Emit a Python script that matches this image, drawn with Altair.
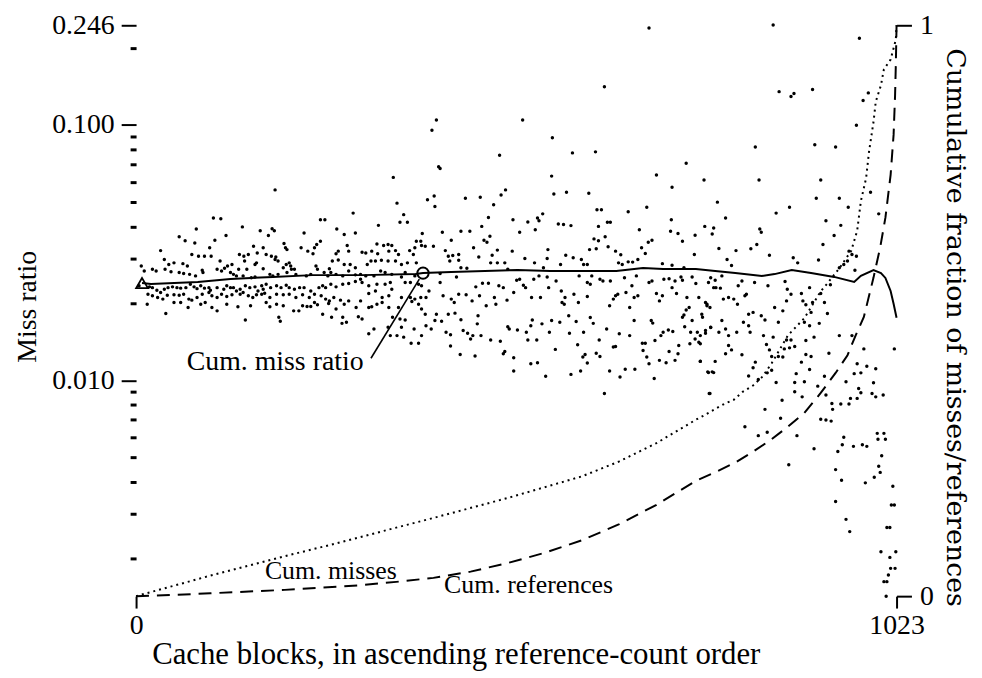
import altair as alt
import pandas as pd

# ---------------- data (block index, log10 of miss ratio) ----------------
pts_left_upper = [(187,-1.254),(346,-1.205),(351,-1.306),(360,-1.351),(355,-1.381),(365,-1.381),(392,-1.293),(292,-1.345),(104,-1.364),(114,-1.367),(248,-1.371),(254,-1.371),(326,-1.393),(81,-1.407),(143,-1.399),(183,-1.406),(186,-1.414),(167,-1.414),(270,-1.407),(226,-1.423),(280,-1.429),(295,-1.423),(385,-1.425),(58,-1.438),(66,-1.453),(106,-1.451),(121,-1.433),(79,-1.462),(178,-1.433),(248,-1.455),(243,-1.468),(240,-1.481),(199,-1.464),(99,-1.481),(33,-1.492),(75,-1.507),(84,-1.514),(92,-1.514),(101,-1.514),(139,-1.507),(145,-1.514),(151,-1.507),(158,-1.475),(171,-1.481),(163,-1.501),(175,-1.507),(182,-1.514),(188,-1.517),(201,-1.481),(203,-1.488),(222,-1.481),(231,-1.494),(238,-1.504),(269,-1.504),(272,-1.494),(284,-1.472),(286,-1.494),(304,-1.498),(309,-1.501),(317,-1.494),(324,-1.466),(333,-1.472),(339,-1.468),(344,-1.472),(325,-1.504),(340,-1.494),(349,-1.492),(353,-1.507),(368,-1.492),(375,-1.481),(377,-1.455),(383,-1.455),(384,-1.472),(389,-1.475),(373,-1.507)]
pts_left_mid = [(38,-1.527),(44,-1.546),(51,-1.540),(63,-1.543),(69,-1.552),(113,-1.533),(123,-1.552),(129,-1.546),(146,-1.533),(160,-1.546),(162,-1.540),(149,-1.565),(138,-1.565),(171,-1.563),(187,-1.527),(191,-1.533),(198,-1.559),(202,-1.546),(206,-1.540),(208,-1.552),(213,-1.565),(242,-1.552),(260,-1.563),(264,-1.533),(272,-1.529),(280,-1.546),(288,-1.546),(295,-1.559),(311,-1.546),(316,-1.533),(322,-1.533),(330,-1.530),(339,-1.533),(349,-1.533),(357,-1.546),(365,-1.540),(377,-1.540),(7,-1.552),(11,-1.572),(22,-1.565),(27,-1.572),(39,-1.565),(47,-1.575),(58,-1.578),(64,-1.582),(72,-1.585),(80,-1.591),(89,-1.569),(90,-1.578),(109,-1.565),(115,-1.572),(119,-1.561),(127,-1.578),(131,-1.585),(135,-1.591),(144,-1.591),(155,-1.598),(160,-1.595),(180,-1.585),(184,-1.591),(191,-1.585),(203,-1.578),(209,-1.565),(215,-1.585),(229,-1.591),(235,-1.585),(244,-1.565),(253,-1.578),(258,-1.591),(262,-1.578),(269,-1.585),(278,-1.591),(286,-1.572),(295,-1.587),(302,-1.585),(309,-1.591),(320,-1.591),(329,-1.572),(335,-1.578),(344,-1.585),(357,-1.595),(362,-1.578),(375,-1.591)]
pts_left_low = [(4,-1.630),(18,-1.634),(22,-1.637),(28,-1.647),(33,-1.656),(38,-1.643),(43,-1.637),(49,-1.634),(55,-1.637),(60,-1.639),(67,-1.637),(73,-1.624),(78,-1.634),(82,-1.641),(87,-1.630),(92,-1.639),(98,-1.637),(100,-1.647),(109,-1.637),(118,-1.643),(122,-1.630),(127,-1.637),(131,-1.637),(135,-1.650),(140,-1.643),(147,-1.630),(153,-1.637),(160,-1.634),(164,-1.650),(169,-1.630),(171,-1.643),(175,-1.624),(181,-1.637),(189,-1.630),(195,-1.637),(202,-1.628),(206,-1.637),(213,-1.643),(220,-1.637),(226,-1.637),(235,-1.650),(246,-1.637),(251,-1.630),(255,-1.637),(262,-1.624),(269,-1.634),(278,-1.624),(286,-1.621),(295,-1.613),(302,-1.604),(304,-1.617),(313,-1.630),(324,-1.624),(335,-1.624),(342,-1.617),(362,-1.617),(369,-1.617),(380,-1.624),(384,-1.630),
    (16,-1.663),(22,-1.669),(29,-1.676),(36,-1.682),(42,-1.667),(51,-1.665),(58,-1.667),(64,-1.663),(71,-1.682),(75,-1.686),(82,-1.676),(89,-1.663),(98,-1.656),(102,-1.669),(109,-1.676),(115,-1.663),(122,-1.672),(129,-1.665),(140,-1.663),(144,-1.656),(151,-1.669),(157,-1.676),(162,-1.665),(169,-1.663),(173,-1.659),(180,-1.676),(189,-1.663),(198,-1.665),(206,-1.663),(215,-1.676),(224,-1.665),(233,-1.676),(240,-1.663),(249,-1.669),(255,-1.682),(260,-1.689),(266,-1.676),(275,-1.686),(280,-1.702),(286,-1.689),(302,-1.689),(313,-1.660),(322,-1.650),(331,-1.676),(340,-1.669),(344,-1.643),(357,-1.676),(369,-1.676),(375,-1.682),(383,-1.676),(390,-1.676),
    (15,-1.702),(40,-1.738),(51,-1.695),(60,-1.695),(70,-1.715),(87,-1.702),(93,-1.695),(102,-1.715),(109,-1.728),(122,-1.702),(137,-1.712),(154,-1.708),(147,-1.764),(175,-1.695),(180,-1.712),(189,-1.702),(192,-1.753),(194,-1.769),(198,-1.708),(212,-1.728),(219,-1.728),(224,-1.708),(230,-1.711),(235,-1.711),(240,-1.695),(244,-1.704),(251,-1.741),(259,-1.699),(263,-1.753),(269,-1.721),(278,-1.753),(283,-1.773),(277,-1.777),(296,-1.715),(299,-1.751),(304,-1.760),(313,-1.715),(317,-1.712),(324,-1.702),(331,-1.695),(340,-1.715),(345,-1.753),(353,-1.715),(355,-1.760),(362,-1.764),(371,-1.691),(380,-1.702),(384,-1.721),(389,-1.741),(390,-1.786),(313,-1.818),(320,-1.799),(339,-1.792),(342,-1.825),(351,-1.825),(357,-1.792),(360,-1.831),(370,-1.855),(374,-1.799),(380,-1.855),(384,-1.825)]
pts_mid_upper = [(489,-1.118),(587,-1.109),(618,-1.105),(407,-1.163),(409,-1.170),(559,-1.200),(740,-1.150),(700,-1.196),(764,-1.215),(721,-1.244),(562,-1.270),(579,-1.263),(609,-1.267),(401,-1.278),(402,-1.319),(443,-1.287),(463,-1.283),(491,-1.274),(497,-1.254),(481,-1.312),(662,-1.340),(687,-1.322),(620,-1.332),(626,-1.332),(547,-1.348),(540,-1.364),(542,-1.375),(527,-1.380),(507,-1.371),(474,-1.362),(465,-1.397),(537,-1.410),(568,-1.388),(575,-1.390),(585,-1.394),(622,-1.397),(634,-1.381),(638,-1.381),(720,-1.371),(677,-1.410),(719,-1.416),(729,-1.425),(752,-1.432),(765,-1.397),(777,-1.403),(775,-1.427),
    (400,-1.475),(412,-1.420),(424,-1.451),(437,-1.416),(449,-1.416),(454,-1.481),(468,-1.451),(472,-1.459),(476,-1.436),(486,-1.490),(506,-1.494),(516,-1.420),(554,-1.488),(616,-1.446),(622,-1.453),(631,-1.438),(610,-1.488),(619,-1.485),(635,-1.477),(645,-1.494),(652,-1.508),(680,-1.481),(685,-1.503),(689,-1.459),(694,-1.451),(735,-1.455),(751,-1.507),(416,-1.492),(420,-1.514),(426,-1.511),(434,-1.507),(422,-1.533),(434,-1.530),(461,-1.517),(479,-1.510),(486,-1.540),(496,-1.540),(523,-1.523),(536,-1.540),(553,-1.523),(571,-1.546),(578,-1.510),(588,-1.520),(599,-1.527),(602,-1.546),(607,-1.546),(649,-1.540),(654,-1.546),(662,-1.536),(668,-1.537),(675,-1.527),(708,-1.543),(721,-1.549),(737,-1.559),(437,-1.559),(477,-1.540),(500,-1.565),(548,-1.559),(409,-1.582),(431,-1.595),(445,-1.561),
    (398,-1.020),(404,-0.980),(520,-0.980),(560,-1.050),(630,-0.850),(690,-0.620)]
pts_mid_low = [(394,-1.650),(409,-1.617),(413,-1.669),(424,-1.682),(428,-1.695),(434,-1.663),(444,-1.665),(452,-1.689),(457,-1.634),(462,-1.669),(466,-1.620),(474,-1.620),(482,-1.676),(484,-1.702),(471,-1.708),(488,-1.630),(494,-1.637),(499,-1.686),(508,-1.656),(512,-1.608),(516,-1.604),(521,-1.628),(524,-1.637),(532,-1.676),(535,-1.604),(542,-1.591),(544,-1.676),(553,-1.595),(555,-1.637),(565,-1.611),(572,-1.650),(577,-1.676),(576,-1.702),(573,-1.695),(589,-1.663),(595,-1.695),(596,-1.591),(607,-1.617),(611,-1.624),(607,-1.672),(613,-1.591),(624,-1.604),(628,-1.611),(638,-1.611),(642,-1.682),(637,-1.708),(645,-1.669),(648,-1.663),(657,-1.598),(659,-1.656),(664,-1.715),(667,-1.630),(670,-1.676),(673,-1.591),(675,-1.669),(690,-1.617),(694,-1.611),(700,-1.660),(704,-1.689),(708,-1.669),(710,-1.604),(717,-1.602),(725,-1.611),(721,-1.637),(727,-1.660),(733,-1.595),(735,-1.608),(741,-1.676),(748,-1.595),(753,-1.621),(757,-1.676),(766,-1.695),(770,-1.617),(772,-1.715),(777,-1.637),
    (397,-1.799),(402,-1.766),(404,-1.741),(411,-1.769),(417,-1.812),(423,-1.822),(420,-1.741),(429,-1.737),(437,-1.763),(440,-1.805),(446,-1.816),(450,-1.838),(453,-1.825),(460,-1.747),(459,-1.779),(464,-1.825),(423,-1.866),(436,-1.899),(456,-1.905),(477,-1.842),(490,-1.847),(494,-1.896),(496,-1.887),(500,-1.790),(502,-1.799),(513,-1.803),(508,-1.912),(508,-1.964),(525,-1.812),(527,-1.842),(531,-1.786),(533,-1.764),(539,-1.842),(531,-1.935),(540,-1.931),(546,-1.779),(551,-1.984),(556,-1.812),(559,-1.766),(564,-1.879),(570,-1.773),(582,-1.747),(583,-1.816),(585,-1.977),(592,-1.770),(594,-1.861),(598,-1.964),(601,-1.909),(602,-1.812),(604,-1.899),(607,-1.932),(611,-1.754),(615,-1.777),(619,-1.894),(623,-1.842),(624,-1.907),(630,-2.052),(633,-1.799),(637,-1.964),(642,-1.870),(645,-1.868),(650,-1.818),(651,-1.987),(658,-1.957),(664,-1.825),(670,-1.766),(671,-1.957),(681,-1.855),(682,-1.883),(685,-1.855),(687,-1.909),(690,-1.935),(693,-1.766),(695,-1.776),(697,-1.993),(698,-1.844),(704,-1.922),(706,-1.825),(709,-1.812),(713,-1.931),(716,-1.803),(717,-1.887),(722,-1.809),(725,-1.922),(729,-1.896),(730,-1.864),(735,-1.753),(737,-1.744),(738,-1.790),(740,-1.725),(744,-1.715),(745,-1.857),(746,-1.812),(748,-1.766),(752,-1.838),(755,-1.812),(757,-1.851),(759,-1.925),(762,-1.753),(766,-1.805),(768,-1.708),(769,-1.967),(773,-1.792),(775,-1.967),(772,-2.052)]
pts_right_upper = [(857,-0.608),(973,-0.660),(865,-0.869),(881,-0.888),(885,-0.876),(910,-0.861),(985,-0.874),(978,-0.904),(969,-1.001),(833,-1.086),(913,-1.077),(941,-1.086),(838,-1.215),(921,-1.215),(988,-1.263),(782,-1.302),(915,-1.287),(946,-1.287),(879,-1.322),(861,-1.345),(958,-1.322),(999,-1.348),(793,-1.364),(928,-1.375),(948,-1.393),(839,-1.407),(841,-1.420),(939,-1.433),(784,-1.484),(807,-1.492),(827,-1.485),(835,-1.468),(852,-1.510),(795,-1.527),(801,-1.550),(884,-1.520),(890,-1.540),(918,-1.529),(924,-1.468),(959,-1.494),(957,-1.533),(963,-1.507),(969,-1.514),(946,-1.559),(952,-1.546),(967,-1.569),
    (773,-1.598),(779,-1.608),(788,-1.591),(780,-1.637),(786,-1.639),(810,-1.630),(815,-1.611),(821,-1.663),(832,-1.617),(850,-1.630),(873,-1.613),(876,-1.643),(881,-1.663),(895,-1.660),(906,-1.637),(921,-1.660),(934,-1.626),(768,-1.702),(761,-1.741),(790,-1.682),(797,-1.676),(804,-1.682),(809,-1.702),(819,-1.669),(824,-1.741),(830,-1.734),(841,-1.747),(859,-1.715),(870,-1.728),(875,-1.689),(897,-1.689),(901,-1.704),(910,-1.695),(908,-1.734),(926,-1.695),(930,-1.738),(899,-1.773),(906,-1.786),(919,-1.777),(788,-1.766),(817,-1.773),(824,-1.786),(846,-1.764),(864,-1.773),(793,-1.799),(773,-1.793)]
pts_right_low = [(759,-1.825),(766,-1.816),(784,-1.812),(797,-1.825),(808,-1.812),(826,-1.812),(844,-1.825),(857,-1.831),(875,-1.842),(881,-1.842),(886,-1.868),(879,-1.873),(872,-1.877),(912,-1.831),(901,-1.844),(932,-1.894),(946,-1.825),(963,-1.825),(759,-1.857),(797,-1.864),(801,-1.881),(793,-1.896),(848,-1.860),(852,-1.881),(855,-1.907),(864,-1.907),(870,-1.909),(815,-1.900),(901,-1.899),(908,-1.907),(895,-1.929),(906,-1.958),(979,-1.877),(1020,-1.877),(759,-1.926),(779,-1.926),(833,-1.929),(830,-1.951),(849,-1.971),(855,-1.961),(824,-1.983),(837,-1.997),(770,-1.970),(777,-1.970),(888,-1.974),(886,-2.009),(899,-2.006),(861,-2.009),(926,-1.984),(917,-2.023),(928,-2.058),(970,-1.935),(983,-1.945),(995,-1.955),(966,-1.974),(975,-1.971),(955,-2.006),(992,-2.010),(972,-2.032),(975,-2.049),(970,-2.071),(961,-2.071),(959,-2.093),(948,-2.093),(936,-2.091),(937,-2.114),(990,-2.052),(995,-2.065),(1005,-2.058),(771,-2.052),(886,-2.045),(896,-2.065),(869,-2.078),(846,-2.114),(867,-2.149),(819,-2.182),(837,-2.217),(849,-2.204),(889,-2.217),(921,-2.153),(928,-2.156),(935,-2.160),(912,-2.268),(878,-2.331),(952,-2.223),(950,-2.253),(944,-2.279),(965,-2.259),(977,-2.253),(983,-2.259),(997,-2.208),(1006,-2.208),(998,-2.231),(1008,-2.231),(1003,-2.296),(999,-2.337),(1001,-2.361),(993,-2.380),(981,-2.402),(941,-2.350),(949,-2.392),(941,-2.475),(955,-2.545),(960,-2.593),(1018,-2.415),(1016,-2.489),(1020,-2.489),(1010,-2.577),(1014,-2.577),(1002,-2.672),(1022,-2.672),(1014,-2.694),(1015,-2.737),(1021,-2.737),(1012,-2.763),(1006,-2.789),(1010,-2.789),(1009,-2.846)]

# cumulative miss ratio (solid line)
cumratio_block = [8, 20, 83, 127, 184, 237, 304, 376, 386, 424, 469, 513, 557, 602, 646, 682, 709, 753, 779, 806, 842, 859, 882, 908, 939, 966, 975, 992, 1002, 1008, 1015, 1019, 1023]
cumratio_log10 = [-1.619, -1.623, -1.615, -1.603, -1.595, -1.588, -1.588, -1.584, -1.580, -1.576, -1.572, -1.568, -1.572, -1.572, -1.572, -1.560, -1.564, -1.564, -1.572, -1.580, -1.591, -1.584, -1.568, -1.580, -1.595, -1.615, -1.591, -1.568, -1.580, -1.599, -1.650, -1.700, -1.755]

# cumulative fraction of references (dashed)
refs_block = [0, 50, 100, 200, 300, 350, 400, 450, 500, 550, 600, 650, 700, 753, 779, 806, 830, 855, 877, 899, 921, 941, 957, 968, 979, 992, 1001, 1008, 1015, 1019, 1021, 1022, 1023]
refs_frac = [0, 0.002, 0.005, 0.011, 0.019, 0.025, 0.032, 0.043, 0.058, 0.076, 0.098, 0.126, 0.160, 0.202, 0.217, 0.234, 0.253, 0.275, 0.297, 0.321, 0.356, 0.391, 0.422, 0.457, 0.489, 0.558, 0.611, 0.663, 0.738, 0.808, 0.877, 0.930, 1.0]

# cumulative fraction of misses (dotted)
miss_block = [0, 50, 100, 150, 200, 262, 300, 400, 500, 600, 650, 700, 753, 766, 779, 793, 804, 816, 830, 843, 855, 877, 899, 921, 930, 947, 962, 970, 975, 982, 986, 992, 995, 1002, 1006, 1015, 1022, 1023]
miss_frac = [0, 0.018, 0.036, 0.053, 0.070, 0.090, 0.103, 0.137, 0.172, 0.210, 0.236, 0.268, 0.309, 0.318, 0.328, 0.338, 0.344, 0.358, 0.369, 0.385, 0.408, 0.457, 0.487, 0.534, 0.548, 0.576, 0.605, 0.640, 0.692, 0.732, 0.779, 0.831, 0.866, 0.895, 0.923, 0.940, 0.975, 1.0]

major_ticks = [0.246, 0.1, 0.01]
major_labels = ["0.246", "0.100", "0.010"]
minor_ticks = [0.2, 0.09, 0.08, 0.07, 0.06, 0.05, 0.04, 0.03, 0.02,
               0.009, 0.008, 0.007, 0.006, 0.005, 0.004, 0.003, 0.002]

# ---------------- frames ----------------
all_pts = pts_left_upper + pts_left_mid + pts_left_low + pts_mid_upper + pts_mid_low + pts_right_upper + pts_right_low
df_sc = pd.DataFrame({"block": [p[0] for p in all_pts], "miss": [10 ** p[1] for p in all_pts]})
df_ratio = pd.DataFrame({"block": cumratio_block, "miss": [10 ** v for v in cumratio_log10]})
df_refs = pd.DataFrame({"block": refs_block, "frac": refs_frac})
df_miss = pd.DataFrame({"block": miss_block, "frac": miss_frac})

FONT = "Liberation Serif"
FS = 28      # tick labels, left title
FA = 26      # curve annotations
xs = alt.Scale(domain=[0, 1023], nice=False, zero=False)


def ylog():
    return alt.Scale(type="log", domain=[0.001426, 0.246], nice=False)


def ylin():
    return alt.Scale(domain=[0, 1], nice=False, zero=False)


label_map = " : ".join(
    f"abs(datum.value-{v})<1e-7 ? '{s}'" for v, s in zip(major_ticks, major_labels)
) + " : ''"

x_axis = alt.Axis(values=[0, 1023], domain=False, grid=False, tickSize=12, tickWidth=2,
                  tickColor="black", labelFont=FONT, labelFontSize=FS, labelColor="black",
                  labelPadding=4, labelFlush=False, format="d",
                  title="Cache blocks, in ascending reference-count order",
                  titleFont=FONT, titleFontSize=31, titleFontWeight="normal", titleColor="black",
                  titleX=322, titleY=68, titleAlign="center", titleBaseline="alphabetic")

y_axis_major = alt.Axis(orient="left", values=major_ticks, domain=False, grid=False,
                        tickSize=15, tickWidth=2, tickColor="black",
                        labelExpr=label_map,
                        labelFont=FONT, labelFontSize=FS, labelColor="black", labelPadding=7,
                        labelOverlap=False, labelFlush=False,
                        title="Miss ratio", titleFont=FONT, titleFontSize=FS,
                        titleFontWeight="normal", titleColor="black", titleAngle=-90,
                        titleX=-109, titleY=283, titleAlign="center", titleBaseline="middle")

y_axis_minor = alt.Axis(orient="left", values=minor_ticks, domain=False, grid=False,
                        tickSize=6, tickWidth=3, tickColor="black", labels=False, title=None)

y2_axis = alt.Axis(orient="right", values=[0, 1], domain=False, grid=False, tickSize=15,
                   tickWidth=2, tickColor="black", format="d",
                   labelFont=FONT, labelFontSize=FS, labelColor="black", labelPadding=8,
                   labelFlush=False,
                   title="Cumulative fraction of misses/references", titleFont="DejaVu Serif",
                   titleFontSize=27, titleFontWeight="normal", titleColor="black",
                   titleAngle=90, titleX=58, titleY=304, titleAlign="center",
                   titleBaseline="middle")

XF = alt.X("block:Q", scale=xs)

scatter = alt.Chart(df_sc).mark_circle(size=12, color="black", opacity=1).encode(
    x=alt.X("block:Q", scale=xs, axis=x_axis),
    y=alt.Y("miss:Q", scale=ylog(), axis=y_axis_major))
ratio_line = alt.Chart(df_ratio).mark_line(color="black", strokeWidth=2).encode(
    x=XF, y=alt.Y("miss:Q", scale=ylog(), axis=y_axis_minor))
tri = alt.Chart(df_ratio).transform_filter(alt.datum.block == 8).mark_point(
    shape="triangle-up", size=140, filled=False, color="black", strokeWidth=1.8, opacity=1
).encode(x=XF, y=alt.Y("miss:Q", scale=ylog(), axis=None))
circ = alt.Chart(df_ratio).transform_filter(alt.datum.block == 386).mark_point(
    shape="circle", size=130, filled=False, color="black", strokeWidth=2, opacity=1
).encode(x=XF, y=alt.Y("miss:Q", scale=ylog(), axis=None))
leader = alt.Chart(df_ratio).transform_filter(alt.datum.block == 386).mark_rule(
    color="black", strokeWidth=1.6
).encode(
    x=alt.XDatum(316, scale=xs), x2=alt.X2Datum(381),
    y=alt.YDatum(0.0122, scale=ylog(), axis=None), y2=alt.Y2Datum(0.0249))
txt_ratio = alt.Chart(df_ratio).transform_filter(alt.datum.block == 386).mark_text(
    text="Cum. miss ratio", font=FONT, fontSize=28, align="right", baseline="middle", color="black"
).encode(x=alt.XDatum(306, scale=xs), y=alt.YDatum(0.0118, scale=ylog(), axis=None))

dotted = alt.Chart(df_miss).mark_line(color="black", strokeWidth=2, strokeDash=[2, 4]).encode(
    x=XF, y=alt.Y("frac:Q", scale=ylin(), axis=y2_axis))
dashed = alt.Chart(df_refs).mark_line(color="black", strokeWidth=2, strokeDash=[13, 8]).encode(
    x=XF, y=alt.Y("frac:Q", scale=ylin(), axis=None))
txt_miss = alt.Chart(df_miss).transform_filter(alt.datum.block == 0).mark_text(
    text="Cum. misses", font=FONT, fontSize=FA, align="center", baseline="middle", color="black"
).encode(x=alt.XDatum(262, scale=xs), y=alt.YDatum(0.0435, scale=ylin(), axis=None))
txt_refs = alt.Chart(df_refs).transform_filter(alt.datum.block == 0).mark_text(
    text="Cum. references", font=FONT, fontSize=FA, align="center", baseline="middle", color="black"
).encode(x=alt.XDatum(528, scale=xs), y=alt.YDatum(0.019, scale=ylin(), axis=None))

# the layer carrying the visible x axis goes last so the shared x axis keeps its settings
chart = alt.layer(
    ratio_line, tri, circ, leader, txt_ratio, dotted, dashed, txt_miss, txt_refs, scatter
).resolve_scale(y="independent").properties(
    width=766, height=575,
    autosize=alt.AutoSizeParams(type="none"),
    padding={"left": 129, "top": 15, "right": 78, "bottom": 76},
    background="white",
).configure_view(stroke=None)

chart.save("out.html", embed_options={"renderer": "svg", "actions": False})
